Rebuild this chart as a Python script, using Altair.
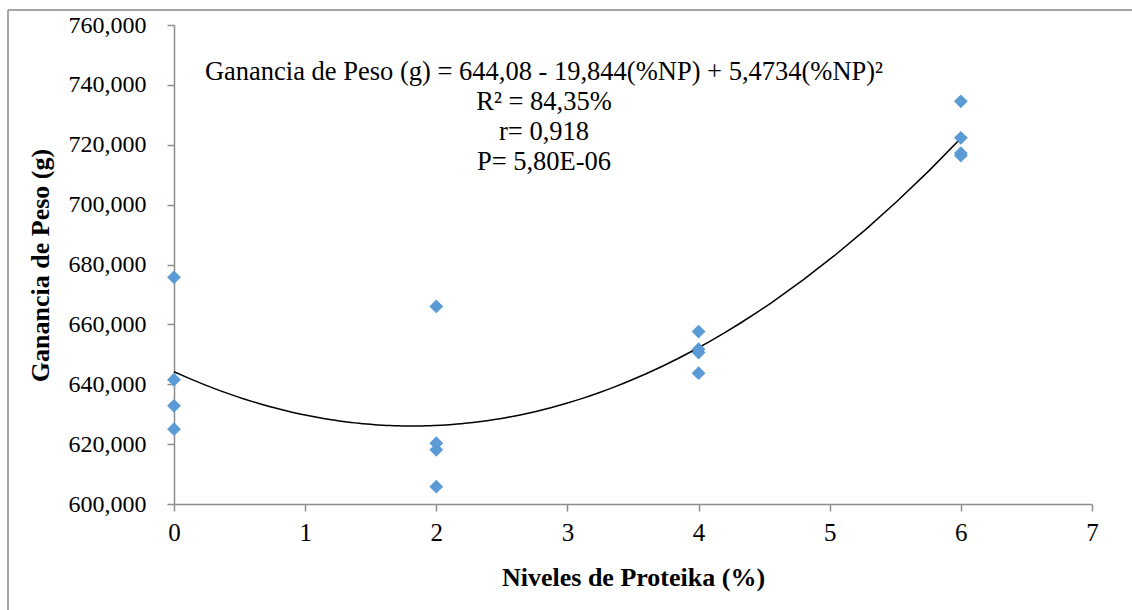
import altair as alt
import pandas as pd

# Proteika level (%) for each animal
niveles = [0, 0, 0, 0, 2, 2, 2, 2, 4, 4, 4, 4, 6, 6, 6, 6]
# Weight gain (g) for each animal
ganancia = [675.7, 641.5, 632.8, 625.0,
            666.0, 620.3, 618.1, 605.8,
            657.6, 651.7, 650.6, 643.7,
            734.5, 722.3, 717.2, 716.4]

y_ticks = [600, 620, 640, 660, 680, 700, 720, 740, 760]
x_ticks = [0, 1, 2, 3, 4, 5, 6, 7]

stats_lines = [
    "Ganancia de Peso (g) = 644,08 - 19,844(%NP) + 5,4734(%NP)²",
    "R² = 84,35%",
    "r= 0,918",
    "P= 5,80E-06",
]

df = pd.DataFrame({"nivel": niveles, "ganancia": ganancia})

FONT = "Liberation Serif"
AXIS_GREY = "#8c8c8c"
W, H = 918, 479

x_enc = alt.X(
    "nivel:Q",
    scale=alt.Scale(domain=[0, 7], nice=False),
    axis=alt.Axis(
        values=x_ticks, format="d", title="Niveles de Proteika (%)", grid=False,
        labelFont=FONT, labelFontSize=25, labelColor="black", labelPadding=9,
        labelFlush=False,
        titleFont=FONT, titleFontSize=26, titleFontWeight="bold", titleColor="black",
        titleX=W / 2, titleY=73, titleBaseline="middle",
        domainColor=AXIS_GREY, domainWidth=1.5, tickColor=AXIS_GREY, tickSize=7, tickWidth=1.5,
    ),
)
y_enc = alt.Y(
    "ganancia:Q",
    scale=alt.Scale(domain=[600, 760], nice=False, zero=False),
    axis=alt.Axis(
        values=y_ticks, title="Ganancia de Peso (g)", grid=False,
        labelExpr="replace(format(datum.value, '.3f'), '.', ',')",
        labelFont=FONT, labelFontSize=24, labelColor="black", labelPadding=21,
        labelFlush=False,
        titleFont=FONT, titleFontSize=26, titleFontWeight="bold", titleColor="black",
        titleAngle=-90, titleX=-134, titleY=240, titleAlign="center", titleBaseline="middle",
        domainColor=AXIS_GREY, domainWidth=1.5, tickColor=AXIS_GREY, tickSize=7, tickWidth=1.5,
    ),
)

base = alt.Chart(df)

points = base.mark_point(
    shape="diamond", filled=True, size=190, color="#5B9BD5", opacity=1
).encode(x=x_enc, y=y_enc)

trend = base.transform_regression(
    "nivel", "ganancia", method="poly", order=2
).mark_line(color="black", strokeWidth=1.5).encode(x="nivel:Q", y="ganancia:Q")

stats = alt.Chart(pd.DataFrame({"t": ["\n".join(stats_lines)]})).mark_text(
    font=FONT, fontSize=26.5, align="center", baseline="top", lineHeight=30,
    lineBreak="\n", color="black",
).encode(text="t:N", x=alt.value(370), y=alt.value(34))

# Outer frame of the chart area (top and left edges)
frame_top = alt.Chart(pd.DataFrame({"a": [0]})).mark_rule(
    color="#a6a6a6", strokeWidth=2
).encode(x=alt.value(-166), x2=alt.value(1132 - 174), y=alt.value(-15))
frame_left = alt.Chart(pd.DataFrame({"a": [0]})).mark_rule(
    color="#a6a6a6", strokeWidth=2
).encode(x=alt.value(-166), y=alt.value(-15), y2=alt.value(610))

chart = alt.layer(frame_top, frame_left, trend, points, stats).properties(
    width=W, height=H,
    autosize=alt.AutoSizeParams(type="none"),
    padding={"left": 174, "top": 25, "right": 40, "bottom": 106},
    background="white",
).configure_view(stroke=None)

chart.save("out.html", embed_options={"renderer": "svg", "actions": False})
